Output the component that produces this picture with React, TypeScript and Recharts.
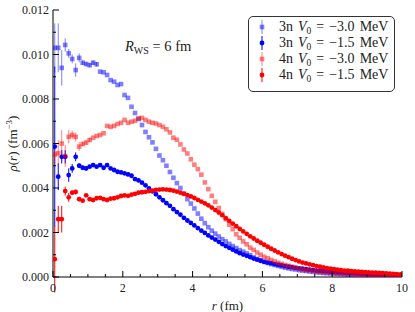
import { ScatterChart, Scatter, XAxis, YAxis, ErrorBar } from 'recharts'

// radius grid (fm)
const R = [
  0.05, 0.15, 0.25, 0.35, 0.45, 0.55, 0.65, 0.75, 0.85, 0.95,
  1.05, 1.15, 1.25, 1.35, 1.45, 1.55, 1.65, 1.75, 1.85, 1.95,
  2.05, 2.15, 2.25, 2.35, 2.45, 2.55, 2.65, 2.75, 2.85, 2.95,
  3.05, 3.15, 3.25, 3.35, 3.45, 3.55, 3.65, 3.75, 3.85, 3.95,
  4.05, 4.15, 4.25, 4.35, 4.45, 4.55, 4.65, 4.75, 4.85, 4.95,
  5.05, 5.15, 5.25, 5.35, 5.45, 5.55, 5.65, 5.75, 5.85, 5.95,
  6.05, 6.15, 6.25, 6.35, 6.45, 6.55, 6.65, 6.75, 6.85, 6.95,
  7.05, 7.15, 7.25, 7.35, 7.45, 7.55, 7.65, 7.75, 7.85, 7.95,
  8.05, 8.15, 8.25, 8.35, 8.45, 8.55, 8.65, 8.75, 8.85, 8.95,
  9.05, 9.15, 9.25, 9.35, 9.45, 9.55, 9.65, 9.75, 9.85, 9.95,
]

// 3n, V0 = -3.0 MeV
const rho3nDeep = [
  0.01030, 0.01030, 0.00940, 0.01043, 0.01005, 0.00980, 0.00930, 0.00985, 0.00963, 0.00957,
  0.00952, 0.00963, 0.00956, 0.00923, 0.00920, 0.00908, 0.00885, 0.00878, 0.00863, 0.00867,
  0.00818, 0.00805, 0.00765, 0.00737, 0.00710, 0.00683, 0.00652, 0.00628, 0.00605, 0.00576,
  0.00546, 0.00525, 0.00500, 0.00472, 0.00446, 0.00422, 0.00400, 0.00375, 0.00350, 0.00330,
  0.00308, 0.00285, 0.00262, 0.00242, 0.00224, 0.00208, 0.00195, 0.00182, 0.00170, 0.00160,
  0.00149, 0.00139, 0.00130, 0.00121, 0.00114, 0.00106, 0.00098, 0.00088, 0.00081, 0.00075,
  0.00068, 0.00063, 0.00058, 0.00054, 0.00050, 0.00046, 0.00042, 0.00039, 0.00036, 0.00034,
  0.00031, 0.00029, 0.00027, 0.00025, 0.00023, 0.00021, 0.00020, 0.00018, 0.00017, 0.00016,
  0.00015, 0.00014, 0.00013, 0.00012, 0.00011, 0.00010, 0.000095, 0.00009, 0.000085, 0.00008,
  0.000075, 0.00007, 0.000065, 0.00006, 0.000055, 0.00005, 0.000047, 0.000044, 0.00004, 0.000037,
]
const err3nDeep = [0.0011, 0.0011, 0.0008, 0.0003, 0.0002, 0.0002, 0.0003, 0.0002, 0.0001, 0.0001, 0.0001, 0.0001, 0.0001]

// 3n, V0 = -1.5 MeV
const rho3nShallow = [
  0.00586, 0.00451, 0.00540, 0.00540, 0.00458, 0.00488, 0.00540, 0.00500, 0.00491, 0.00488,
  0.00496, 0.00503, 0.00496, 0.00503, 0.00491, 0.00503, 0.00488, 0.00481, 0.00473, 0.00470,
  0.00466, 0.00461, 0.00455, 0.00440, 0.00434, 0.00424, 0.00412, 0.00398, 0.00385, 0.00372,
  0.00358, 0.00345, 0.00332, 0.00320, 0.00305, 0.00292, 0.00280, 0.00266, 0.00254, 0.00243,
  0.00232, 0.00220, 0.00208, 0.00198, 0.00187, 0.00177, 0.00168, 0.00158, 0.00148, 0.00139,
  0.00131, 0.00123, 0.00115, 0.00107, 0.00101, 0.00095, 0.00089, 0.00083, 0.00078, 0.00073,
  0.00068, 0.00065, 0.00062, 0.00058, 0.00055, 0.00052, 0.00049, 0.00046, 0.00044, 0.00041,
  0.00039, 0.00037, 0.00035, 0.00033, 0.00031, 0.00029, 0.00028, 0.00026, 0.00025, 0.00023,
  0.00022, 0.00021, 0.00020, 0.00019, 0.00018, 0.00017, 0.00016, 0.00015, 0.00014, 0.00013,
  0.00012, 0.000115, 0.00011, 0.000105, 0.00010, 0.000095, 0.00009, 0.000085, 0.00008, 0.000075,
]
const err3nShallow = [0.0036, 0.0006, 0.0003, 0.0003, 0.0003, 0.0002, 0.0002, 0.0001, 0.0001, 0.0001]

// 4n, V0 = -3.0 MeV
const rho4nDeep = [
  0.00550, 0.00556, 0.00600, 0.00544, 0.00630, 0.00638, 0.00630, 0.00586, 0.00598, 0.00604,
  0.00616, 0.00626, 0.00634, 0.00638, 0.00646, 0.00679, 0.00675, 0.00679, 0.00688, 0.00693,
  0.00706, 0.00693, 0.00698, 0.00702, 0.00713, 0.00715, 0.00706, 0.00698, 0.00693, 0.00690,
  0.00683, 0.00675, 0.00664, 0.00650, 0.00626, 0.00617, 0.00596, 0.00573, 0.00555, 0.00529,
  0.00505, 0.00485, 0.00460, 0.00425, 0.00395, 0.00365, 0.00338, 0.00310, 0.00283, 0.00260,
  0.00235, 0.00215, 0.00192, 0.00176, 0.00160, 0.00147, 0.00132, 0.00122, 0.00110, 0.00100,
  0.00091, 0.00084, 0.00077, 0.00070, 0.00064, 0.00059, 0.00054, 0.00050, 0.00046, 0.00042,
  0.00038, 0.00035, 0.00032, 0.00030, 0.00028, 0.00026, 0.00024, 0.00022, 0.00021, 0.00020,
  0.00018, 0.00017, 0.00016, 0.00015, 0.00014, 0.00013, 0.00012, 0.00011, 0.000105, 0.00010,
  0.000095, 0.00009, 0.000085, 0.00008, 0.000075, 0.00007, 0.000066, 0.000062, 0.000058, 0.000055,
]
const err4nDeep = [0.0005, 0.0006, 0.0006, 0.0005, 0.0003, 0.0002, 0.0002, 0.0002, 0.0001, 0.0001, 0.0001]

// 4n, V0 = -1.5 MeV
const rho4nShallow = [
  0.00080, 0.00260, 0.00260, 0.00386, 0.00358, 0.00379, 0.00382, 0.00350, 0.00343, 0.00367,
  0.00350, 0.00346, 0.00354, 0.00356, 0.00350, 0.00346, 0.00352, 0.00354, 0.00358, 0.00364,
  0.00367, 0.00365, 0.00370, 0.00374, 0.00379, 0.00381, 0.00383, 0.00386, 0.00388, 0.00392,
  0.00393, 0.00394, 0.00393, 0.00391, 0.00388, 0.00384, 0.00379, 0.00374, 0.00368, 0.00362,
  0.00355, 0.00347, 0.00339, 0.00331, 0.00322, 0.00312, 0.00301, 0.00290, 0.00278, 0.00264,
  0.00252, 0.00240, 0.00228, 0.00216, 0.00205, 0.00194, 0.00183, 0.00173, 0.00163, 0.00154,
  0.00145, 0.00136, 0.00127, 0.00119, 0.00111, 0.00103, 0.00096, 0.00089, 0.00082, 0.00076,
  0.00070, 0.00065, 0.00061, 0.00057, 0.00053, 0.00049, 0.00046, 0.00043, 0.00040, 0.00038,
  0.00035, 0.00033, 0.00031, 0.00029, 0.00028, 0.00026, 0.00025, 0.00024, 0.00023, 0.00022,
  0.00021, 0.00020, 0.00019, 0.00018, 0.00017, 0.00016, 0.00015, 0.00014, 0.00013, 0.00012,
]
const err4nShallow = [0.0015, 0.0006, 0.0006, 0.0002, 0.0002, 0.0001, 0.0001, 0.0001]

const X_TICKS = [0, 0.5, 1, 1.5, 2, 2.5, 3, 3.5, 4, 4.5, 5, 5.5, 6, 6.5, 7, 7.5, 8, 8.5, 9, 9.5, 10]
const Y_TICKS = [0, 0.001, 0.002, 0.003, 0.004, 0.005, 0.006, 0.007, 0.008, 0.009, 0.01, 0.011, 0.012]

const FONT = '"Liberation Serif", "DejaVu Serif", serif'
const INK = '#222'

const toPoints = (vals: number[], errs: number[]) =>
  vals.map((v, i) => ({ r: R[i], v, e: errs[i] ?? 0 }))

const series = [
  { key: '3n-3.0', label: '3n', v0: '−3.0', data: toPoints(rho3nDeep, err3nDeep), color: 'rgba(0,0,255,0.5)', square: true },
  { key: '3n-1.5', label: '3n', v0: '−1.5', data: toPoints(rho3nShallow, err3nShallow), color: '#0000ff', square: false },
  { key: '4n-3.0', label: '4n', v0: '−3.0', data: toPoints(rho4nDeep, err4nDeep), color: 'rgba(255,0,0,0.5)', square: true },
  { key: '4n-1.5', label: '4n', v0: '−1.5', data: toPoints(rho4nShallow, err4nShallow), color: '#ff0000', square: false },
]

const isMajorX = (v: number) => Math.abs(v / 2 - Math.round(v / 2)) < 1e-9
const isMajorY = (v: number) => Math.round(v * 1000) % 2 === 0

const BottomTick = ({ x, y, payload }: any) => {
  const major = isMajorX(payload.value)
  return (
    <g>
      <line x1={x} x2={x} y1={y} y2={y - (major ? 6 : 3)} stroke="#000" />
      {major && (
        <text x={x} y={y + 15} textAnchor="middle" fontFamily={FONT} fontSize={12} fill={INK}>
          {payload.value}
        </text>
      )}
    </g>
  )
}

const TopTick = ({ x, y, payload }: any) => (
  <line x1={x} x2={x} y1={y} y2={y + (isMajorX(payload.value) ? 6 : 3)} stroke="#000" />
)

const LeftTick = ({ x, y, payload }: any) => {
  const major = isMajorY(payload.value)
  return (
    <g>
      <line x1={x} x2={x + (major ? 6 : 3)} y1={y} y2={y} stroke="#000" />
      {major && (
        <text x={x - 4} y={y + 4} textAnchor="end" fontFamily={FONT} fontSize={12} fill={INK}>
          {payload.value.toFixed(3)}
        </text>
      )}
    </g>
  )
}

const RightTick = ({ x, y, payload }: any) => (
  <line x1={x} x2={x - (isMajorY(payload.value) ? 6 : 3)} y1={y} y2={y} stroke="#000" />
)

const XLabel = ({ viewBox }: any) => (
  <text x={viewBox.x + viewBox.width / 2} y={viewBox.y + 33} textAnchor="middle" fontFamily={FONT} fontSize={13} fill={INK}>
    <tspan fontStyle="italic">r</tspan> (fm)
  </text>
)

const YLabel = ({ viewBox }: any) => {
  const cx = viewBox.x + 9
  const cy = viewBox.y + viewBox.height / 2
  return (
    <text x={cx} y={cy} textAnchor="middle" transform={`rotate(-90, ${cx}, ${cy})`} fontFamily={FONT} fontSize={13} fill={INK}>
      <tspan fontStyle="italic">ρ</tspan>(<tspan fontStyle="italic">r</tspan>) (fm<tspan dy={-5} fontSize={9}>−3</tspan>
      <tspan dy={5}>)</tspan>
    </text>
  )
}

const squareShape = (color: string) => ({ cx, cy }: any) => (
  <rect x={cx - 2.3} y={cy - 2.3} width={4.6} height={4.6} fill={color} />
)
const circleShape = (color: string) => ({ cx, cy }: any) => <circle cx={cx} cy={cy} r={2.4} fill={color} />

const LegendBox = () => (
  <div
    style={{
      position: 'absolute',
      left: 248,
      top: 16,
      width: 147,
      height: 76,
      boxSizing: 'border-box',
      border: '1px solid #333',
      borderRadius: 5,
      background: '#fff',
      paddingTop: 2,
      fontFamily: FONT,
      fontSize: 14,
      color: INK,
    }}
  >
    {series.map((s) => (
      <div key={s.key} style={{ height: 16, display: 'flex', alignItems: 'center', whiteSpace: 'nowrap' }}>
        <svg width={10} height={14} style={{ marginLeft: 8, flex: 'none' }}>
          <line x1={5} x2={5} y1={0} y2={14} stroke={s.color} />
          {s.square ? <rect x={2.7} y={4.7} width={4.6} height={4.6} fill={s.color} /> : <circle cx={5} cy={7} r={2.4} fill={s.color} />}
        </svg>
        <span style={{ marginLeft: 12, wordSpacing: 1.5 }}>
          {s.label} <i>V</i>
          <span style={{ fontSize: 9.5, position: 'relative', top: 3 }}>0</span> = {s.v0} MeV
        </span>
      </div>
    ))}
  </div>
)

export default function App() {
  return (
    <div style={{ position: 'absolute', left: 0, top: 0, width: 415, height: 312, background: '#fff' }}>
      <ScatterChart width={415} height={312} margin={{ top: 10, right: 13, bottom: 10, left: 8 }}>
        <XAxis
          type="number"
          dataKey="r"
          domain={[0, 10]}
          ticks={X_TICKS}
          interval={0}
          allowDataOverflow
          height={25}
          tickSize={0}
          tickMargin={0}
          tickLine={false}
          axisLine={{ stroke: '#000' }}
          tick={BottomTick}
          label={{ content: XLabel }}
        />
        <XAxis
          xAxisId="top"
          orientation="top"
          type="number"
          domain={[0, 10]}
          ticks={X_TICKS}
          interval={0}
          height={0}
          tickSize={0}
          tickMargin={0}
          tickLine={false}
          axisLine={{ stroke: '#000' }}
          tick={TopTick}
        />
        <YAxis
          type="number"
          dataKey="v"
          domain={[0, 0.012]}
          ticks={Y_TICKS}
          interval={0}
          allowDataOverflow
          width={45}
          tickSize={0}
          tickMargin={0}
          tickLine={false}
          axisLine={{ stroke: '#000' }}
          tick={LeftTick}
          label={{ content: YLabel }}
        />
        <YAxis
          yAxisId="right"
          orientation="right"
          type="number"
          domain={[0, 0.012]}
          ticks={Y_TICKS}
          interval={0}
          width={0}
          tickSize={0}
          tickMargin={0}
          tickLine={false}
          axisLine={{ stroke: '#000' }}
          tick={RightTick}
        />
        {series.map((s) => (
          <Scatter
            key={s.key}
            name={s.key}
            data={s.data}
            fill={s.color}
            shape={s.square ? squareShape(s.color) : circleShape(s.color)}
            isAnimationActive={false}
          >
            <ErrorBar dataKey="e" direction="y" width={0} stroke={s.color} strokeWidth={1} />
          </Scatter>
        ))}
      </ScatterChart>
      <div style={{ position: 'absolute', left: 125, top: 38, fontFamily: FONT, fontSize: 14.5, color: INK, whiteSpace: 'nowrap' }}>
        <i>R</i>
        <span style={{ fontSize: 10, position: 'relative', top: 3 }}>WS</span> = 6 fm
      </div>
      <LegendBox />
    </div>
  )
}
